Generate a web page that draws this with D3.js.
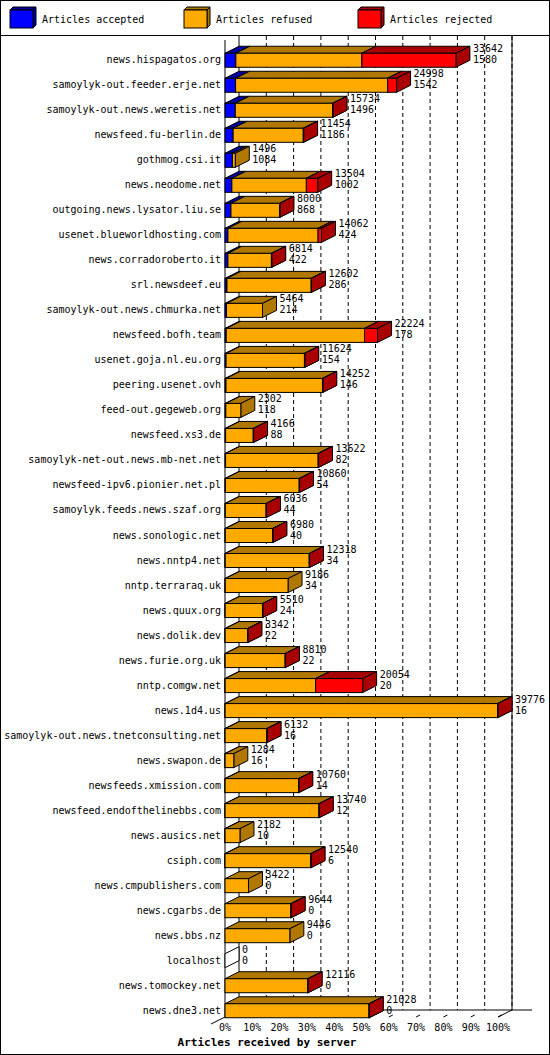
<!DOCTYPE html>
<html><head><meta charset="utf-8">
<script src="https://cdn.jsdelivr.net/npm/d3@7"></script>
<style>body{margin:0;background:#fff}text{font-family:"DejaVu Sans Mono",monospace;font-size:10px}</style>
</head><body>
<script>
var hosts = ["news.hispagatos.org","samoylyk-out.feeder.erje.net","samoylyk-out.news.weretis.net","newsfeed.fu-berlin.de","gothmog.csi.it","news.neodome.net","outgoing.news.lysator.liu.se","usenet.blueworldhosting.com","news.corradoroberto.it","srl.newsdeef.eu","samoylyk-out.news.chmurka.net","newsfeed.bofh.team","usenet.goja.nl.eu.org","peering.usenet.ovh","feed-out.gegeweb.org","newsfeed.xs3.de","samoylyk-net-out.news.mb-net.net","newsfeed-ipv6.pionier.net.pl","samoylyk.feeds.news.szaf.org","news.sonologic.net","news.nntp4.net","nntp.terraraq.uk","news.quux.org","news.dolik.dev","news.furie.org.uk","nntp.comgw.net","news.1d4.us","samoylyk-out.news.tnetconsulting.net","news.swapon.de","newsfeeds.xmission.com","newsfeed.endofthelinebbs.com","news.ausics.net","csiph.com","news.cmpublishers.com","news.cgarbs.de","news.bbs.nz","localhost","news.tomockey.net","news.dne3.net"];
var offered = [33642,24998,15734,11454,1496,13504,8000,14062,6814,12602,5464,22224,11624,14252,2302,4166,13622,10860,6036,6980,12318,9186,5510,3342,8810,20054,39776,6132,1284,10760,13740,2182,12540,3422,9644,9446,0,12116,21028];
var accepted = [1580,1542,1496,1186,1084,1002,868,424,422,286,214,178,154,146,118,88,82,54,44,40,34,34,24,22,22,20,16,16,16,14,12,10,6,0,0,0,0,0,0];
var rejected = [13700,1300,50,50,0,1650,50,500,50,50,0,1900,50,50,0,50,50,50,50,50,50,0,50,50,50,6850,50,50,0,50,50,0,50,0,50,0,0,50,50];
var legendNames = ["Articles accepted","Articles refused","Articles rejected"];
var fronts = ["#0000ff","#ffaa00","#ff0000"];
var sides = ["#0000a0","#b07800","#a80000"];
var ticks = [0,10,20,30,40,50,60,70,80,90,100];

var W = 550, H = 1055, dx = 14, dy = 7, bh = 14;
var svg = d3.select("body").append("svg").attr("width", W).attr("height", H);
svg.append("rect").attr("x",0.5).attr("y",0.5).attr("width",W-1).attr("height",H-1).attr("fill","#fff").attr("stroke","#000");
svg.append("line").attr("x1",0).attr("x2",W).attr("y1",35.5).attr("y2",35.5).attr("stroke","#000");

function box(g, x0, x1, yTop, i) {
  var pts = function(a){ return a.map(function(p){return p.join(",");}).join(" "); };
  g.append("polygon").attr("points", pts([[x0,yTop],[x0+dx,yTop-dy],[x1+dx,yTop-dy],[x1,yTop]]))
    .attr("fill", sides[i]).attr("stroke","#000");
  g.append("polygon").attr("points", pts([[x1,yTop],[x1+dx,yTop-dy],[x1+dx,yTop+bh-dy],[x1,yTop+bh]]))
    .attr("fill", sides[i]).attr("stroke","#000");
  g.append("rect").attr("x",x0).attr("y",yTop).attr("width",Math.max(0,x1-x0)).attr("height",bh)
    .attr("fill", fronts[i]).attr("stroke","#000");
}

// legend
var lx = d3.scaleOrdinal().domain(legendNames).range([10,184,358]);
legendNames.forEach(function(n,i){
  var g = svg.append("g");
  var x = lx(n);
  g.append("polygon").attr("points",[[x+23,10],[x+26,7],[x+26,25],[x+23,28]].join(" ")).attr("fill",sides[i]).attr("stroke","#000");
  g.append("polygon").attr("points",[[x,10],[x+3,7],[x+26,7],[x+23,10]].join(" ")).attr("fill",sides[i]).attr("stroke","#000");
  g.append("rect").attr("x",x).attr("y",10).attr("width",23).attr("height",18).attr("fill",fronts[i]).attr("stroke","#000");
  g.append("text").attr("x",x+32).attr("y",23).text(n);
});

var x = d3.scaleLinear().domain([0, d3.max(offered)]).range([225, 498]);
var pct = d3.scaleLinear().domain([0,100]).range([225,498]);
var y = d3.scaleBand().domain(hosts).range([45, 1020]).paddingInner(0.42).paddingOuter(0.2);
var floorY = 1017;

// back grid
ticks.slice(1).forEach(function(t){
  svg.append("line").attr("x1",pct(t)+dx).attr("x2",pct(t)+dx).attr("y1",36).attr("y2",floorY-dy)
    .attr("stroke","#000").attr("stroke-dasharray","4,3");
});
svg.append("line").attr("x1",pct(0)+dx).attr("x2",pct(0)+dx).attr("y1",36).attr("y2",floorY-dy).attr("stroke","#000");
svg.append("line").attr("x1",pct(100)+dx).attr("x2",pct(100)+dx).attr("y1",36).attr("y2",floorY-dy).attr("stroke","#000");
svg.append("line").attr("x1",pct(0)+dx).attr("x2",532).attr("y1",floorY-dy).attr("y2",floorY-dy).attr("stroke","#000");
svg.append("line").attr("x1",pct(100)).attr("x2",pct(100)+dx).attr("y1",floorY).attr("y2",floorY-dy).attr("stroke","#000");
svg.append("line").attr("x1",pct(0)-dx).attr("x2",pct(0)).attr("y1",floorY+dy).attr("y2",floorY).attr("stroke","#000");
svg.append("line").attr("x1",pct(0)).attr("x2",pct(0)).attr("y1",40).attr("y2",floorY).attr("stroke","#000");
ticks.forEach(function(t){
  svg.append("line").attr("x1",pct(t)).attr("x2",pct(t)+4).attr("y1",floorY).attr("y2",floorY-2).attr("stroke","#000");
  svg.append("text").attr("x",pct(t)).attr("y",floorY+14).attr("text-anchor","middle").text(t+"%");
});
svg.append("text").attr("x",267).attr("y",1046).attr("text-anchor","middle")
  .style("font-weight","bold").style("font-size","11px").text("Articles received by server");

// bars
hosts.forEach(function(h,k){
  var g = svg.append("g");
  var yTop = y(h) + (y.bandwidth()-bh)/2 + 3;
  var refused = Math.max(0, offered[k]-accepted[k]-rejected[k]);
  var segs = [accepted[k], refused, rejected[k]];
  var acc = 0;
  if (offered[k] === 0) {
    var x0 = x(0);
    g.append("polygon").attr("points",[[x0,yTop],[x0+dx,yTop-dy],[x0+dx,yTop+bh-dy],[x0,yTop+bh]].join(" "))
      .attr("fill","#fff").attr("stroke","#000");
  }
  segs.forEach(function(v,i){
    if (v <= 0) return;
    box(g, x(acc), x(acc+v), yTop, i);
    acc += v;
  });
  g.append("text").attr("x",-4).attr("y",yTop+bh/2+3).attr("x",221).attr("text-anchor","end").text(h);
  var tx = x(offered[k]) + dx + 3;
  g.append("text").attr("x",tx).attr("y",yTop-1).text(offered[k]);
  g.append("text").attr("x",tx).attr("y",yTop+10).text(accepted[k]);
});
</script>
</body></html>
